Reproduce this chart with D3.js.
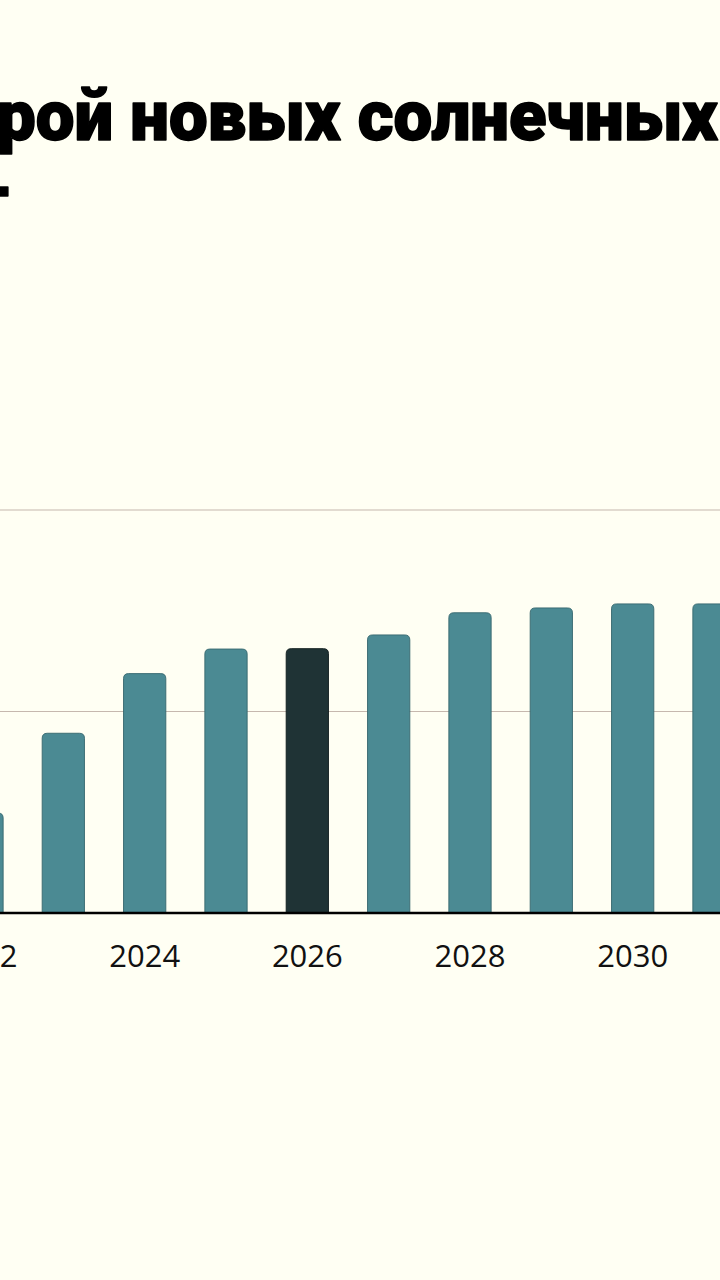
<!DOCTYPE html>
<html>
<head>
<meta charset="utf-8">
<script src="https://cdn.jsdelivr.net/npm/d3@7"></script>
<style>
  html, body { margin: 0; padding: 0; background: #fffff3; overflow: hidden; }
  .title { font-family: Roboto, "Noto Sans", sans-serif; font-weight: 900; font-size: 70px; fill: #000; stroke: #000; stroke-width: 1.6px; stroke-linejoin: round; }
  .axis-year { font-family: "Open Sans", "Noto Sans", sans-serif; font-size: 31px; fill: #111; }
</style>
</head>
<body>
<div id="chart"></div>
<script>
// Solar additions, GW
const years = [2022, 2023, 2024, 2025, 2026, 2027, 2028, 2029, 2030, 2031];
const values = [248, 446, 594, 655, 656, 690, 745, 757, 767, 767];
const highlightYear = 2026;
const gridValues = [500, 1000];
const tickYears = [2022, 2024, 2026, 2028, 2030];
const titleLines = ['Ввод в строй новых солнечных электростанций', 'в мире, ГВт'];

const W = 720, H = 1280;
const cfg = {
  baseline: 913,
  gridTop: 510,      // pixel y of the 1000 line
  firstCenter: -18,
  lastCenter: 714,
  barColor: '#4b8a93',
  barStroke: '#37686e',
  hiColor: '#1f3335',
  radius: 5,
};

const svg = d3.select('#chart').append('svg')
  .attr('width', W).attr('height', H);

svg.append('rect').attr('width', W).attr('height', H).attr('fill', '#fffff3');

// Scales
const step = (cfg.lastCenter - cfg.firstCenter) / (years.length - 1);
const x = d3.scaleBand()
  .domain(years)
  .range([cfg.firstCenter - step / 2, cfg.lastCenter + step / 2])
  .paddingInner(0.48)
  .paddingOuter(0.24);

const y = d3.scaleLinear()
  .domain([0, 1000])
  .range([cfg.baseline, cfg.gridTop]);

// Gridlines
svg.append('g').selectAll('line')
  .data(gridValues)
  .join('line')
  .attr('x1', 0).attr('x2', W)
  .attr('y1', d => y(d)).attr('y2', d => y(d))
  .attr('stroke', '#c6b8ae')
  .attr('stroke-width', 1.2);

// Bars with rounded top corners
function barPath(x0, w, yTop, yBase, r) {
  return `M${x0},${yBase}V${yTop + r}Q${x0},${yTop} ${x0 + r},${yTop}` +
    `H${x0 + w - r}Q${x0 + w},${yTop} ${x0 + w},${yTop + r}V${yBase}Z`;
}

svg.append('g').selectAll('path')
  .data(years.map((yr, i) => ({ yr, v: values[i] })))
  .join('path')
  .attr('d', d => barPath(x(d.yr), x.bandwidth(), y(d.v), y(0), cfg.radius))
  .attr('fill', d => d.yr === highlightYear ? cfg.hiColor : cfg.barColor)
  .attr('stroke', d => d.yr === highlightYear ? '#0f1b1c' : cfg.barStroke)
  .attr('stroke-width', 0.9);

// Baseline
svg.append('line')
  .attr('x1', 0).attr('x2', W)
  .attr('y1', y(0)).attr('y2', y(0))
  .attr('stroke', '#000')
  .attr('stroke-width', 2.5);

// X axis labels
const xAxis = d3.axisBottom(x).tickValues(tickYears).tickSize(0).tickPadding(0);
const ax = svg.append('g')
  .attr('transform', `translate(0,${y(0)})`)
  .call(xAxis);
ax.select('.domain').remove();
ax.selectAll('text')
  .attr('class', 'axis-year')
  .attr('dy', null)
  .attr('y', 54)
  .attr('font-family', null)
  .attr('font-size', null)
  .attr('fill', null);

// Title (cropped at both sides like the reference)
const t1 = svg.append('text').attr('class', 'title').attr('x', 0).attr('y', 0).text(titleLines[0]);
const full = titleLines[0];
const iStart = full.indexOf('рой');
const iEnd = full.indexOf('солнечных') + 'солнечных'.length - 1;
const n1 = t1.node();
const sx0 = n1.getStartPositionOfChar(iStart).x;
const sx1 = n1.getEndPositionOfChar(iEnd).x;
const span = [-3, 718];
const sx = (span[1] - span[0]) / (sx1 - sx0);
t1.attr('transform', `translate(${span[0] - sx0 * sx},140) scale(${sx},1)`);

svg.append('text')
  .attr('class', 'title')
  .attr('text-anchor', 'end')
  .attr('transform', `translate(9,224) scale(${sx},1)`)
  .text(titleLines[1]);
</script>
</body>
</html>
